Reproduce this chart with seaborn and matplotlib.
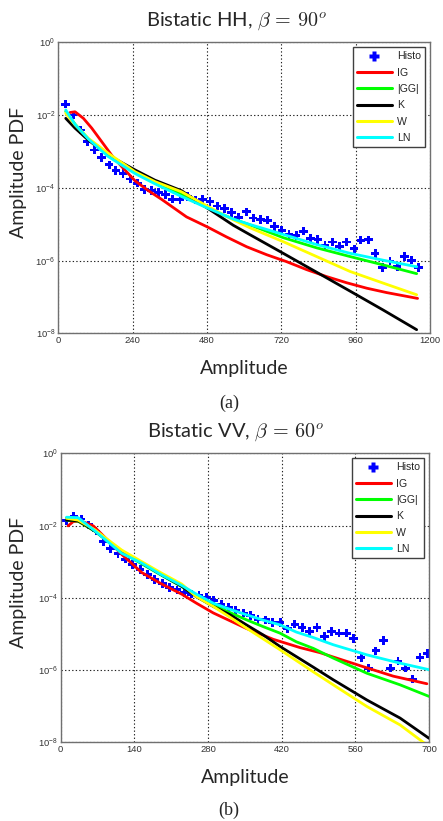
import numpy as np
import pandas as pd
import matplotlib
matplotlib.use('Agg')
import matplotlib.pyplot as plt
import seaborn as sns
from matplotlib.ticker import FixedLocator, FuncFormatter, NullLocator
from matplotlib.lines import Line2D

sns.set_style('white')
plt.rcParams['font.family'] = ['Liberation Sans', 'DejaVu Sans']
plt.rcParams['mathtext.fontset'] = 'cm'

# ---------------- Panel (a): Bistatic HH, beta = 90 ----------------
hh_histo_x = [23.7, 48, 71, 94, 117, 140, 164, 186, 209, 232, 255, 279, 301, 324, 347,
              369, 393, 418, 442, 465, 490, 513, 537, 560, 582, 607, 629, 652, 675, 698,
              722, 745, 768, 791, 814, 838, 861, 885, 908, 931, 955, 977, 1001, 1023,
              1047, 1071, 1094, 1117, 1140, 1163]
hh_histo_log10 = [-1.70, -2.00, -2.41, -2.73, -2.96, -3.17, -3.37, -3.52, -3.61, -3.76,
                  -3.87, -4.04, -4.08, -4.13, -4.19, -4.31, -4.32, -4.24, -4.34, -4.32,
                  -4.37, -4.50, -4.57, -4.68, -4.82, -4.66, -4.83, -4.87, -4.89, -5.07,
                  -5.18, -5.28, -5.31, -5.19, -5.39, -5.42, -5.58, -5.49, -5.62, -5.49,
                  -5.68, -5.44, -5.43, -5.80, -6.19, -6.01, -6.17, -5.89, -5.99, -6.19]
hh_ig_x = [38, 54, 81, 108, 140, 172, 205, 248, 291, 334, 414, 480, 543, 608, 673, 737,
           802, 866, 931, 996, 1060, 1160]
hh_ig_log10 = [-1.93, -1.91, -2.09, -2.36, -2.73, -3.10, -3.42, -3.81, -4.08, -4.32, -4.80,
               -5.07, -5.35, -5.62, -5.84, -6.03, -6.25, -6.44, -6.61, -6.76, -6.88, -7.04]
hh_fit_x = [24, 54, 97, 161, 248, 312, 398, 480, 565, 619, 726, 834, 942, 1049, 1157]
hh_gg_log10 = [-1.90, -2.25, -2.66, -3.08, -3.58, -3.86, -4.17, -4.55, -4.86, -5.02, -5.37,
               -5.65, -5.89, -6.12, -6.36]
hh_k_log10 = [-2.09, -2.36, -2.69, -3.10, -3.51, -3.79, -4.08, -4.55, -5.03, -5.29, -5.80,
              -6.32, -6.84, -7.36, -7.90]
hh_w_log10 = [-1.95, -2.27, -2.64, -3.05, -3.56, -3.83, -4.11, -4.50, -4.88, -5.10, -5.48,
              -5.89, -6.30, -6.62, -6.94]
hh_ln_log10 = [-1.86, -2.26, -2.66, -3.14, -3.61, -3.89, -4.24, -4.55, -4.86, -5.01, -5.28,
               -5.56, -5.80, -5.99, -6.17]
hh_xticks = [0, 240, 480, 720, 960, 1200]

# ---------------- Panel (b): Bistatic VV, beta = 60 ----------------
vv_histo_x = [11, 25, 39, 53, 67, 81, 95, 109, 123, 137, 151, 165, 179, 193, 207, 221, 235,
              249, 263, 277, 291, 305, 319, 333, 347, 361, 375, 389, 403, 417, 431, 445, 459,
              473, 487, 501, 515, 529, 543, 557, 571, 585, 599, 613, 627, 641, 655, 669,
              683, 697]
vv_histo_log10 = [-1.87, -1.74, -1.82, -1.98, -2.15, -2.45, -2.63, -2.77, -2.93, -3.08,
                  -3.22, -3.36, -3.50, -3.61, -3.71, -3.78, -3.86, -3.90, -3.94, -4.00,
                  -4.07, -4.18, -4.26, -4.34, -4.42, -4.49, -4.60, -4.61, -4.68, -4.68,
                  -4.86, -4.73, -4.82, -4.94, -4.82, -5.07, -4.94, -4.98, -4.98, -5.13,
                  -5.65, -5.95, -5.47, -5.19, -5.95, -5.75, -5.95, -6.25, -5.65, -5.54]
vv_ig_x = [14, 24, 40, 62, 78, 116, 154, 192, 230, 258, 290, 353, 404, 455, 493, 518, 569,
           632, 696]
vv_ig_log10 = [-2.01, -1.89, -1.88, -2.01, -2.24, -2.80, -3.30, -3.62, -3.90, -4.15, -4.42,
               -4.85, -5.15, -5.38, -5.52, -5.64, -5.88, -6.17, -6.38]
vv_fit_x = [11, 33, 65, 116, 154, 192, 230, 258, 290, 322, 353, 385, 417, 448, 480, 518,
            582, 645, 700]
vv_gg_log10 = [-1.85, -1.88, -2.16, -2.74, -3.06, -3.38, -3.69, -3.95, -4.20, -4.41, -4.61,
               -4.80, -4.98, -5.22, -5.40, -5.67, -6.09, -6.41, -6.73]
vv_k_log10 = [-1.85, -1.87, -2.15, -2.72, -3.04, -3.37, -3.68, -3.97, -4.24, -4.47, -4.75,
              -5.03, -5.35, -5.63, -5.92, -6.27, -6.83, -7.33, -7.89]
vv_w_log10 = [-1.80, -1.85, -2.12, -2.68, -3.00, -3.32, -3.62, -3.97, -4.24, -4.54, -4.84,
              -5.14, -5.44, -5.74, -6.05, -6.41, -7.01, -7.52, -8.12]
vv_ln_log10 = [-1.77, -1.78, -2.15, -2.77, -3.04, -3.37, -3.66, -3.90, -4.15, -4.32, -4.47,
               -4.62, -4.75, -4.95, -5.10, -5.30, -5.58, -5.81, -5.99]
vv_xticks = [0, 140, 280, 420, 560, 700]

y_ticks_exp = [0, -2, -4, -6, -8]

series_names = ['IG', '|GG|', 'K', 'W', 'LN']
series_colors = ['#ff0000', '#00ff00', '#000000', '#ffff00', '#00ffff']

LABEL_FONT = ['Lato', 'DejaVu Sans']


def draw_panel(ax, hx, hlog, ig_x, ig_log, fx, gg, k, w, ln, xticks, title, title_x, ylab_x):
    ax.set_yscale('log')
    sns.scatterplot(x=np.array(hx), y=10.0 ** np.array(hlog), ax=ax, marker='P', s=38,
                    color='#0000ff', edgecolor='none', linewidth=0, zorder=2, legend=False)
    curves = [(ig_x, ig_log), (fx, gg), (fx, k), (fx, w), (fx, ln)]
    for i, ((xs, ls), name, col) in enumerate(zip(curves, series_names, series_colors)):
        df = pd.DataFrame({'x': xs, 'y': 10.0 ** np.array(ls)})
        sns.lineplot(data=df, x='x', y='y', ax=ax, color=col, lw=2.0, sort=False,
                     estimator=None, zorder=3 + i, legend=False)
    ax.set_xlim(xticks[0], xticks[-1])
    ax.set_ylim(1e-8, 1.0)
    ax.xaxis.set_major_locator(FixedLocator(xticks))
    ax.yaxis.set_major_locator(FixedLocator([10.0 ** e for e in y_ticks_exp]))
    ax.yaxis.set_minor_locator(NullLocator())
    ax.yaxis.set_major_formatter(FuncFormatter(
        lambda v, p: r'$\mathregular{10^{%d}}$' % int(round(np.log10(v)))))
    ax.grid(True, which='major', color='#222222', linestyle=(0, (1.2, 2.0)), linewidth=0.8)
    ax.set_axisbelow(True)
    for sp in ax.spines.values():
        sp.set_color('#707070')
        sp.set_linewidth(1.0)
    ax.tick_params(axis='both', which='major', direction='in', length=3, width=0.6,
                   color='#707070', labelsize=6.8, labelcolor='#333333', pad=2)
    ax.set_title(title, fontsize=14.5, family=LABEL_FONT, pad=12, x=title_x)
    ax.set_xlabel('Amplitude', fontsize=14, family=LABEL_FONT, labelpad=11)
    ax.set_ylabel('Amplitude PDF', fontsize=14, family=LABEL_FONT)
    ax.yaxis.set_label_coords(ylab_x, 0.552)

    handles = [Line2D([], [], linestyle='none', marker='P', markersize=7,
                      markerfacecolor='#0000ff', markeredgecolor='none')]
    for name, col in zip(series_names, series_colors):
        handles.append(Line2D([], [], color=col, lw=2.2))
    leg = ax.legend(handles, ['Histo'] + series_names, loc='upper right', fontsize=7.6,
                    frameon=True, fancybox=False, edgecolor='#404040', framealpha=1,
                    handlelength=3.3, handletextpad=0.5, labelspacing=0.6,
                    borderpad=0.4, borderaxespad=0.45)
    leg.get_frame().set_linewidth(1.0)


fig = plt.figure(figsize=(4.43, 8.21), dpi=100)
ax1 = fig.add_axes([0.1316, 0.594, 0.839, 0.3545])
ax2 = fig.add_axes([0.137, 0.0959, 0.8314, 0.352])

draw_panel(ax1, hh_histo_x, hh_histo_log10, hh_ig_x, hh_ig_log10, hh_fit_x,
           hh_gg_log10, hh_k_log10, hh_w_log10, hh_ln_log10, hh_xticks,
           r'Bistatic HH, $\beta\,=\,90^{o}$', 0.478, -0.085)
draw_panel(ax2, vv_histo_x, vv_histo_log10, vv_ig_x, vv_ig_log10, vv_fit_x,
           vv_gg_log10, vv_k_log10, vv_w_log10, vv_ln_log10, vv_xticks,
           r'Bistatic VV, $\beta\,=\,60^{o}$', 0.475, -0.092)

fig.text(0.517, 1 - 403 / 821, '(a)', ha='center', va='center', fontsize=13,
         family=['Liberation Serif', 'DejaVu Serif'])
fig.text(0.517, 1 - 810 / 821, '(b)', ha='center', va='center', fontsize=13,
         family=['Liberation Serif', 'DejaVu Serif'])

fig.savefig('out.png', dpi=100)
